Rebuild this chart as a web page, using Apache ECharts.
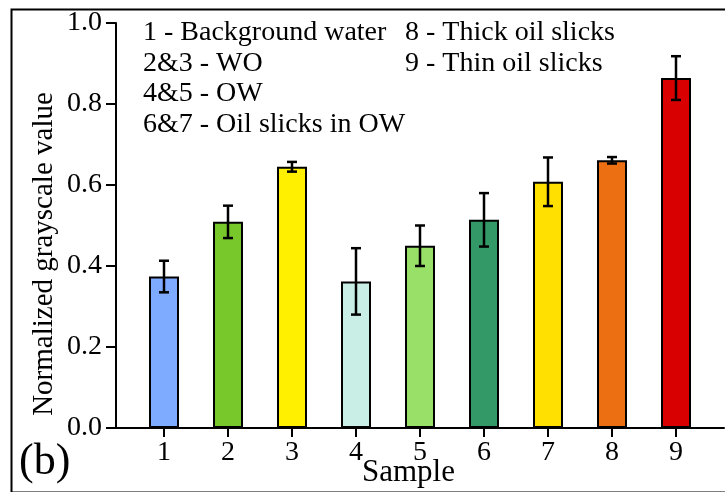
<!DOCTYPE html>
<html>
<head>
<meta charset="utf-8">
<script src="https://cdn.jsdelivr.net/npm/echarts@6/dist/echarts.min.js"></script>
<style>
  html, body { margin: 0; padding: 0; background: #fff; }
  #chart { width: 725px; height: 492px; }
</style>
</head>
<body>
<div id="chart"></div>
<script>
// sample numbers and measured values
var samples = [1, 2, 3, 4, 5, 6, 7, 8, 9]
var means = [0.374, 0.509, 0.645, 0.362, 0.450, 0.514, 0.608, 0.661, 0.864]
var errors = [0.039, 0.040, 0.012, 0.082, 0.050, 0.066, 0.060, 0.008, 0.054]
var yTicks = [0, 0.2, 0.4, 0.6, 0.8, 1.0]
var legendLeft = ['1 - Background water', '2&3 - WO', '4&5 - OW', '6&7 - Oil slicks in OW']
var legendRight = ['8 - Thick oil slicks', '9 - Thin oil slicks']

var barColors = ['#7eaaff', '#78c72b', '#fff000', '#c8eee6', '#98e068', '#339966', '#ffe000', '#ec7012', '#d80000']
var font = 'Liberation Serif'

var chart = echarts.init(document.getElementById('chart'))

var barData = samples.map(function(s, i) {
  return {
    value: [s, means[i]],
    itemStyle: { color: barColors[i] }
  }
})
var errData = samples.map(function(s, i) {
  return [s, means[i] - errors[i], means[i] + errors[i]]
})

function txt(t, x, y, size) {
  return {
    type: 'text', x: x, y: y,
    style: {
      text: t, font: size + "px '" + font + "', serif", fill: '#000',
      textVerticalAlign: 'middle'
    }
  }
}

// legend text lines
var graphics = []
legendLeft.forEach(function(t, i) {
  graphics.push(txt(t, 143, 33 + i * 30.5, 28))
})
legendRight.forEach(function(t, i) {
  graphics.push(txt(t, 405, 33 + i * 30.5, 28))
})
graphics.push(txt('Sample', 362, 473, 31))
graphics.push(txt('(b)', 19, 462, 44))
var yName = txt('Normalized grayscale value', 44, 254, 29)
yName.rotation = Math.PI / 2
yName.style.textAlign = 'center'
graphics.push(yName)
// outer frame
graphics.push({
  type: 'rect', left: 9, top: 7,
  shape: { width: 740, height: 483 },
  style: { fill: 'none', stroke: '#000', lineWidth: 2 },
  z: 100
})

chart.setOption({
  animation: false,
  grid: { left: 116, top: 23, width: 608, height: 405 },
  xAxis: {
    type: 'value',
    min: 0.25,
    max: 9.75,
    splitLine: { show: false },
    axisLine: { show: true, lineStyle: { color: '#000', width: 2 } },
    axisTick: {
      show: true, length: 9, customValues: samples,
      lineStyle: { color: '#000', width: 2 }
    },
    axisLabel: {
      customValues: samples, margin: 11,
      color: '#000', fontFamily: font, fontSize: 28
    }
  },
  yAxis: {
    type: 'value',
    min: 0,
    max: 1,
    interval: 0.2,
    splitLine: { show: false },
    axisLine: { show: true, lineStyle: { color: '#000', width: 2 } },
    axisTick: { show: true, length: 10, lineStyle: { color: '#000', width: 2 } },
    axisLabel: {
      margin: 14, color: '#000', fontFamily: font, fontSize: 28,
      customValues: yTicks,
      formatter: function(v) { return v.toFixed(1) }
    }
  },
  series: [{
    type: 'bar',
    barWidth: 30,
    itemStyle: { borderColor: '#000', borderWidth: 2 },
    data: barData
  }, {
    type: 'custom',
    z: 10,
    renderItem: function(params, api) {
      var x = api.value(0)
      var lo = api.coord([x, api.value(1)])
      var hi = api.coord([x, api.value(2)])
      var half = 5
      var st = { stroke: '#000', lineWidth: 2.5 }
      return {
        type: 'group',
        children: [
          { type: 'line', shape: { x1: lo[0], y1: lo[1], x2: hi[0], y2: hi[1] }, style: st },
          { type: 'line', shape: { x1: lo[0] - half, y1: lo[1], x2: lo[0] + half, y2: lo[1] }, style: st },
          { type: 'line', shape: { x1: hi[0] - half, y1: hi[1], x2: hi[0] + half, y2: hi[1] }, style: st }
        ]
      }
    },
    data: errData
  }],
  graphic: graphics
})
</script>
</body>
</html>
